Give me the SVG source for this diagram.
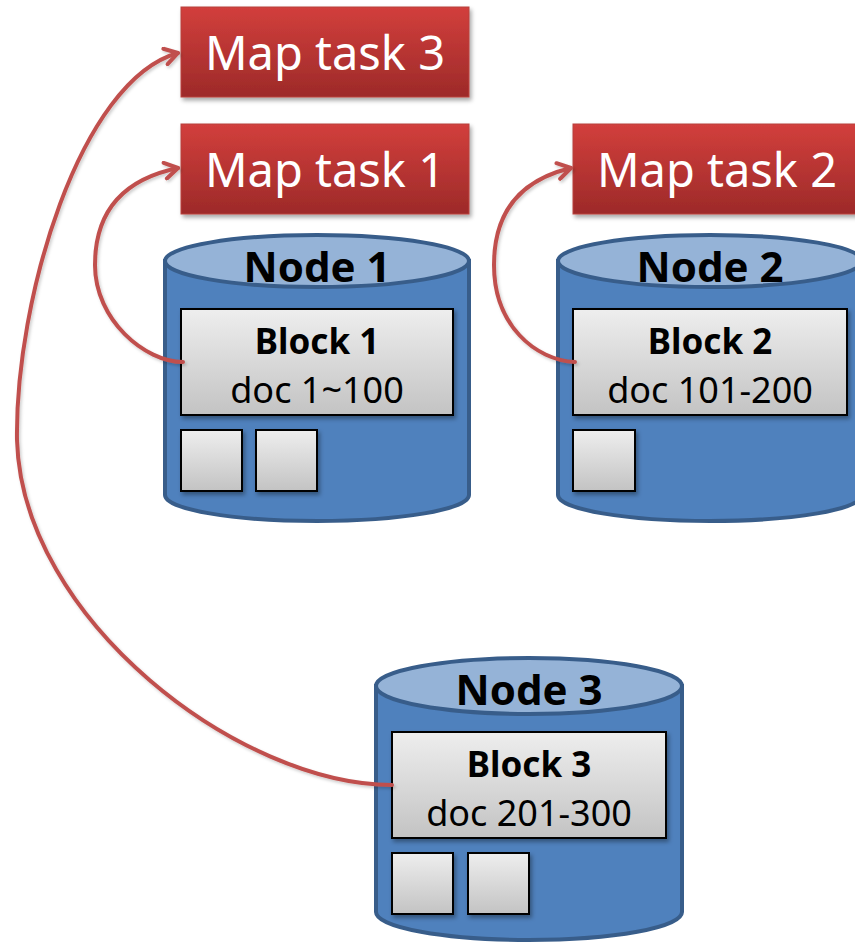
<svg xmlns="http://www.w3.org/2000/svg" width="855" height="944" viewBox="0 0 855 944">
  <defs>
    <linearGradient id="taskFill" x1="0" y1="0" x2="0" y2="1">
      <stop offset="0" stop-color="#d23f3c"/>
      <stop offset="1" stop-color="#9d2a29"/>
    </linearGradient>
    <linearGradient id="blockFill" x1="0" y1="0" x2="0" y2="1">
      <stop offset="0" stop-color="#eeeeee"/>
      <stop offset="1" stop-color="#c3c3c3"/>
    </linearGradient>
    <filter id="shadow" x="-10%" y="-10%" width="125%" height="135%">
      <feDropShadow dx="2" dy="3" stdDeviation="2.2" flood-color="#000" flood-opacity="0.35"/>
    </filter>
    <filter id="lineShadow" x="-10%" y="-10%" width="125%" height="125%">
      <feDropShadow dx="1.5" dy="2" stdDeviation="1.5" flood-color="#000" flood-opacity="0.2"/>
    </filter>
    <marker id="openArrow" viewBox="-16 -10 20 20" markerWidth="20" markerHeight="20" refX="0" refY="0" orient="auto" markerUnits="userSpaceOnUse">
      <path d="M-13,-8 L0,0 L-13,8" fill="none" stroke="#c0504d" stroke-width="4" stroke-linecap="round" stroke-linejoin="round"/>
    </marker>
  </defs>
  <style>
    .task { fill: url(#taskFill); stroke: #b8403d; stroke-width: 1; filter: url(#shadow); }
    .taskText { font-family: "Noto Sans", "Open Sans", sans-serif; font-size: 47px; fill: #ffffff; text-anchor: middle; }
    .body { fill: #4f81bd; stroke: #385d8a; stroke-width: 4; }
    .lid { fill: #95b3d7; stroke: #385d8a; stroke-width: 4; }
    .nodeText { font-family: "Noto Sans", "Open Sans", sans-serif; font-weight: bold; font-size: 42px; fill: #000; text-anchor: middle; }
    .block { fill: url(#blockFill); stroke: #000; stroke-width: 2; filter: url(#shadow); }
    .blockTitle { font-family: "Noto Sans", "Open Sans", sans-serif; font-weight: bold; font-size: 35px; fill: #000; text-anchor: middle; }
    .blockText { font-family: "Noto Sans", "Open Sans", sans-serif; font-size: 36px; fill: #000; text-anchor: middle; }
    .link { fill: none; stroke: #c0504d; stroke-width: 4; stroke-linecap: round; marker-end: url(#openArrow); filter: url(#lineShadow); }
  </style>

  <rect width="855" height="944" fill="#ffffff"/>

  <!-- Map tasks -->
  <g id="map-task-3">
    <rect class="task" x="181" y="7" width="288" height="90"/>
    <text class="taskText" x="325" y="70">Map task 3</text>
  </g>
  <g id="map-task-1">
    <rect class="task" x="181" y="124" width="288" height="90"/>
    <text class="taskText" x="325" y="187">Map task 1</text>
  </g>
  <g id="map-task-2">
    <rect class="task" x="573" y="124" width="290" height="90"/>
    <text class="taskText" x="717" y="187">Map task 2</text>
  </g>

  <!-- Node 1 -->
  <g id="node-1">
    <path class="body" d="M165,261 L165,495 A152,26 0 0 0 469,495 L469,261 Z"/>
    <ellipse class="lid" cx="317" cy="261" rx="152" ry="26"/>
    <text class="nodeText" x="317" y="282">Node 1</text>
    <rect class="block" x="181" y="309" width="272" height="106"/>
    <text class="blockTitle" x="317" y="354">Block 1</text>
    <text class="blockText" x="317" y="403">doc 1~100</text>
    <rect class="block" x="181" y="430" width="61" height="61"/>
    <rect class="block" x="256" y="430" width="61" height="61"/>
  </g>

  <!-- Node 2 -->
  <g id="node-2">
    <path class="body" d="M558,261 L558,495 A152,26 0 0 0 862,495 L862,261 Z"/>
    <ellipse class="lid" cx="710" cy="261" rx="152" ry="26"/>
    <text class="nodeText" x="710" y="282">Node 2</text>
    <rect class="block" x="573" y="309" width="274" height="106"/>
    <text class="blockTitle" x="710" y="354">Block 2</text>
    <text class="blockText" x="710" y="403">doc 101-200</text>
    <rect class="block" x="573" y="430" width="62" height="61"/>
  </g>

  <!-- Node 3 -->
  <g id="node-3">
    <path class="body" d="M376,686 L376,912 A153,28 0 0 0 682,912 L682,686 Z"/>
    <ellipse class="lid" cx="529" cy="686" rx="153" ry="28"/>
    <text class="nodeText" x="529" y="705">Node 3</text>
    <rect class="block" x="392" y="732" width="274" height="106"/>
    <text class="blockTitle" x="529" y="777">Block 3</text>
    <text class="blockText" x="529" y="826">doc 201-300</text>
    <rect class="block" x="392" y="853" width="61" height="61"/>
    <rect class="block" x="468" y="853" width="61" height="61"/>
  </g>

  <!-- Connectors: each block feeds its map task -->
  <g id="connectors">
    <path class="link" d="M183,362 C145,362 95,320 95,265 C95,215 120,180 178,168"/>
    <path class="link" d="M575,362 C535,360 494,325 494,265 C494,212 520,180 571,168"/>
    <path class="link" d="M392,785 C240,785 22,620 17,440 C15,300 80,80 178,53"/>
  </g>
</svg>
